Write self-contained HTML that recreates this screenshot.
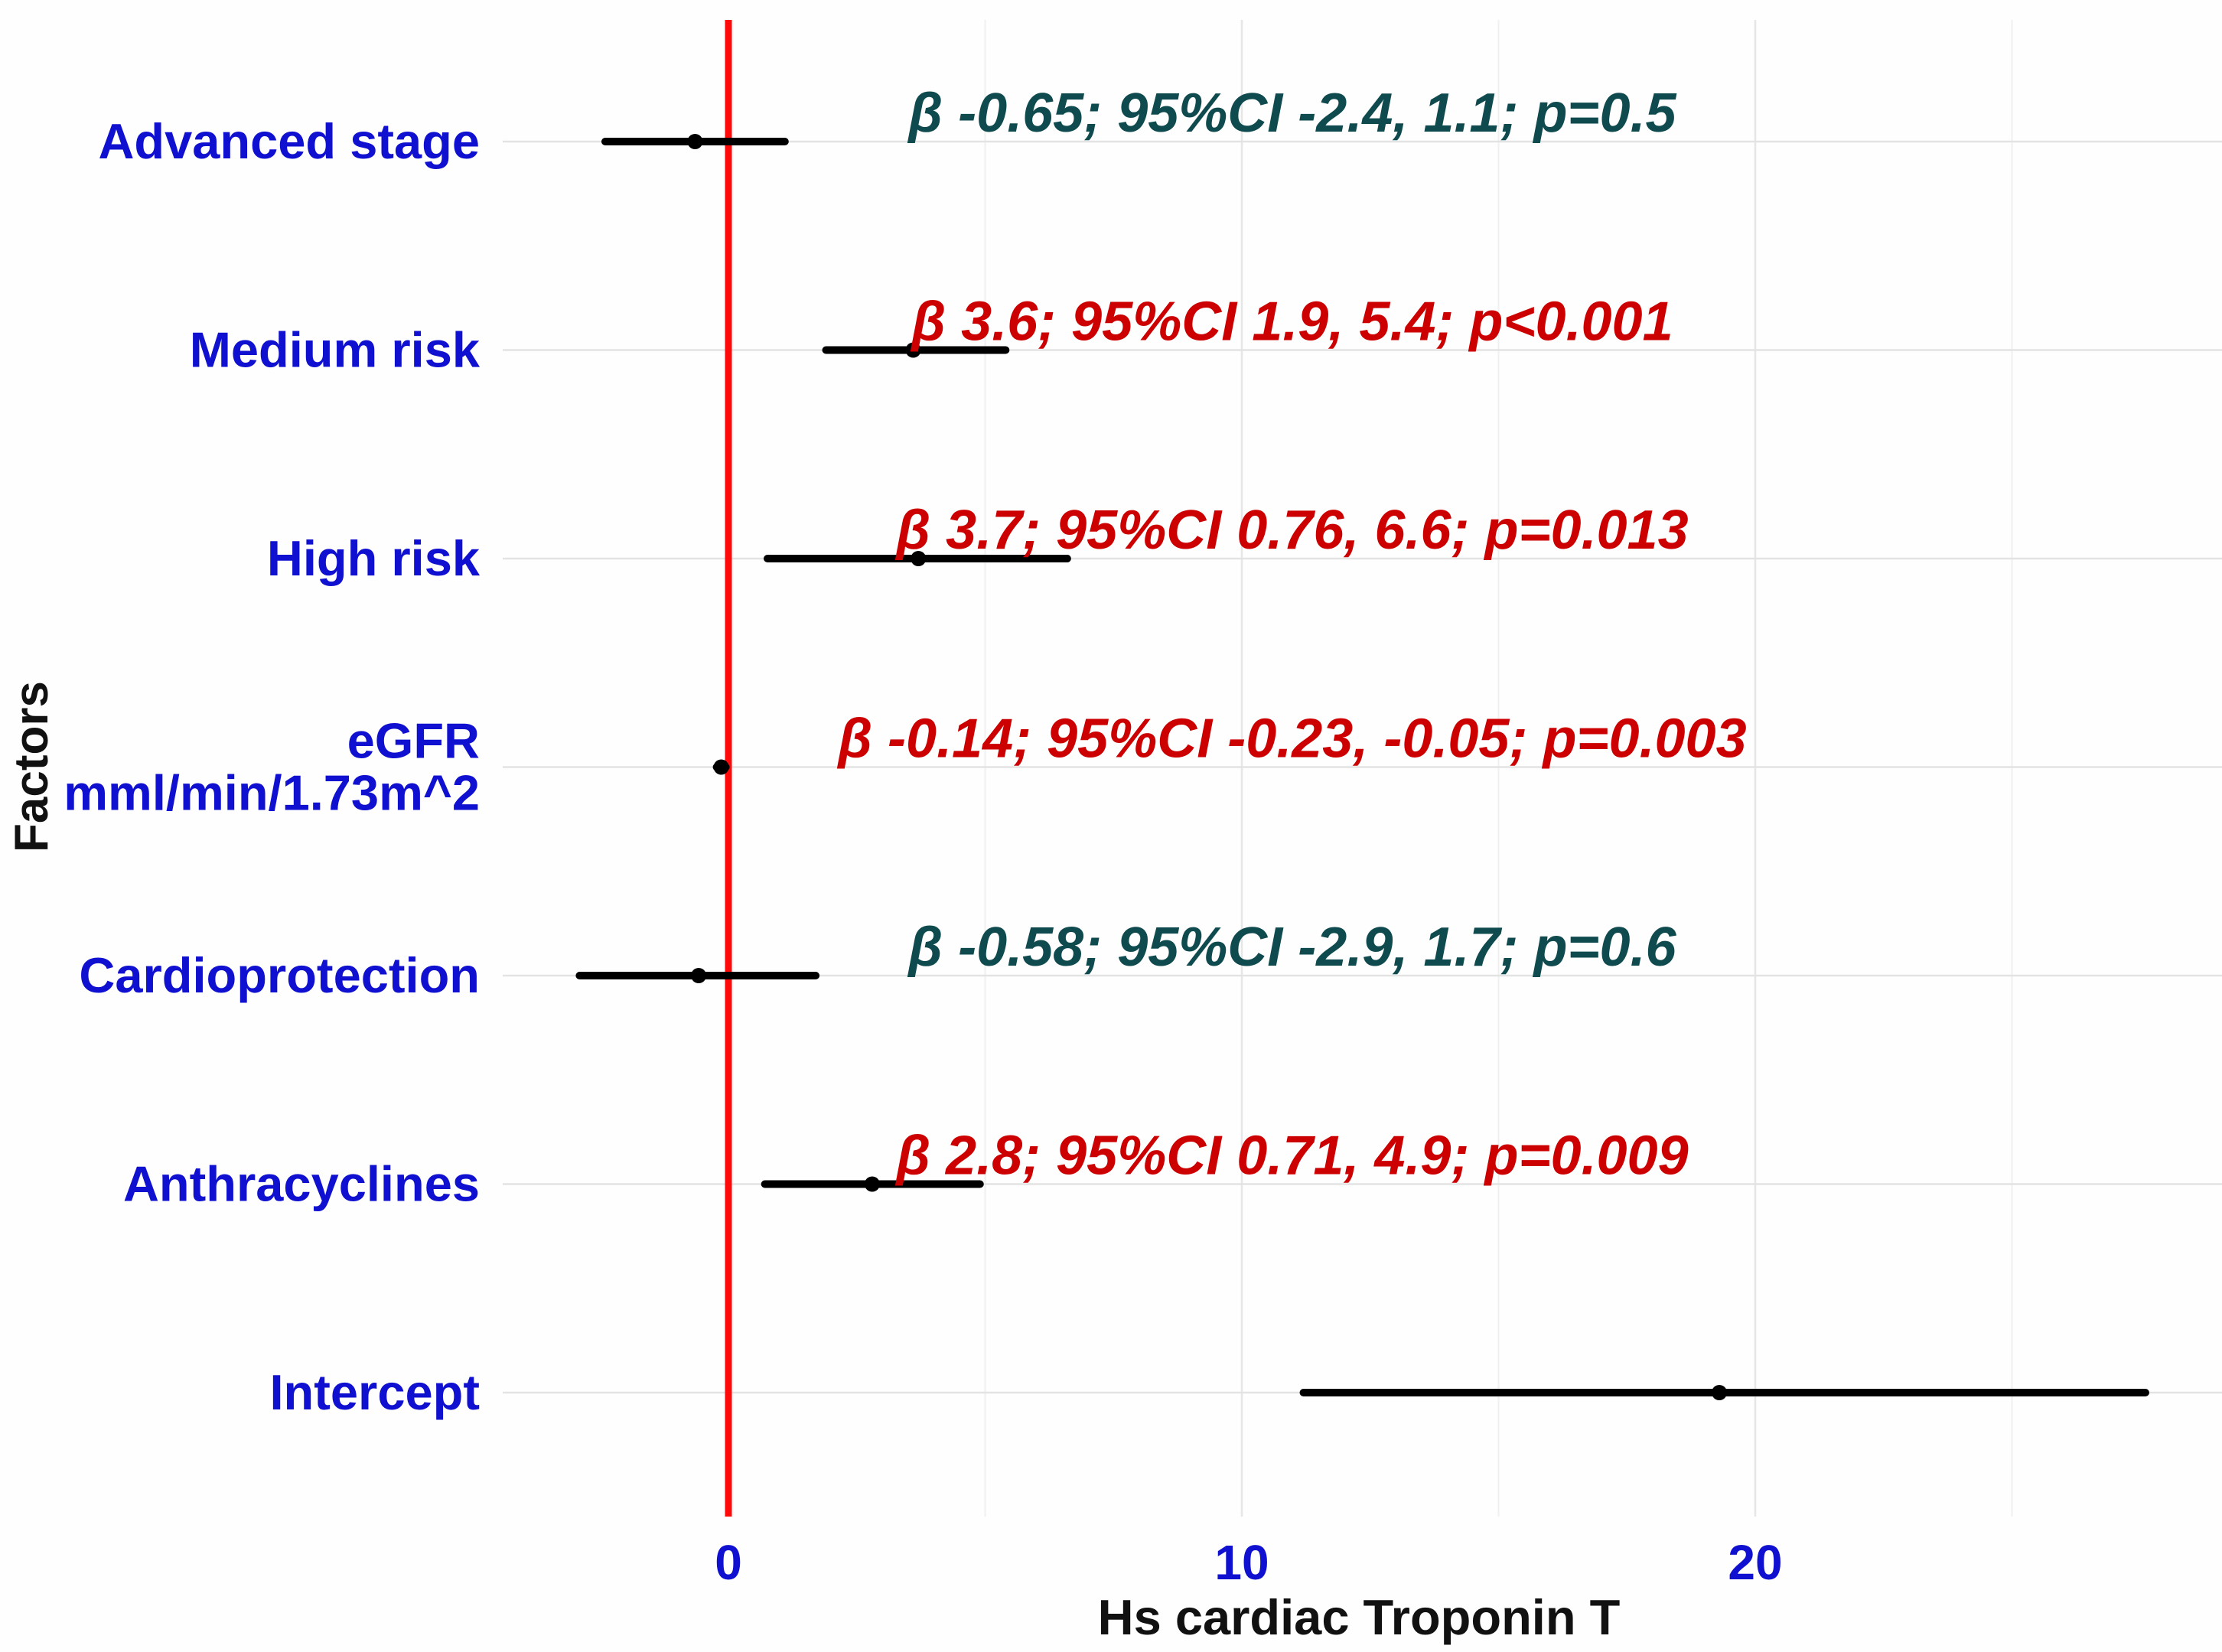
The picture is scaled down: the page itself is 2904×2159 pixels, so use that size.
<!DOCTYPE html>
<html><head><meta charset="utf-8">
<style>
html,body{margin:0;padding:0;background:#fefefe;}
svg{display:block;font-family:"Liberation Sans",sans-serif;}
</style></head>
<body>
<svg id="chart" width="2904" height="2159" viewBox="0 0 2904 2159">
<rect width="2904" height="2159" fill="#fefefe"/>
<g id="grid"></g>
<g id="marks"></g>
<g id="labels"></g>
<text x="952" y="0" id="xtitle" text-anchor="middle" font-weight="bold" font-size="65" fill="#111">Hs cardiac Troponin T</text>
<text transform="translate(62,1002) rotate(-90)" text-anchor="middle" font-weight="bold" font-size="62" fill="#111">Factors</text>
</svg>
<script>
const factors = ["Advanced stage","Medium risk","High risk","eGFR|mml/min/1.73m^2","Cardioprotection","Anthracyclines","Intercept"];
const estimates = [-0.65, 3.6, 3.7, -0.14, -0.58, 2.8, 19.3];
const lowerCI = [-2.4, 1.9, 0.76, -0.23, -2.9, 0.71, 11.2];
const upperCI = [1.1, 5.4, 6.6, -0.05, 1.7, 4.9, 27.6];
const annotations = ["β -0.65; 95%CI -2.4, 1.1; p=0.5","β 3.6; 95%CI 1.9, 5.4; p<0.001","β 3.7; 95%CI 0.76, 6.6; p=0.013","β -0.14; 95%CI -0.23, -0.05; p=0.003","β -0.58; 95%CI -2.9, 1.7; p=0.6","β 2.8; 95%CI 0.71, 4.9; p=0.009",""];
const significant = [false,true,true,true,false,true,false];
const xTicks = [0,10,20];
const xMinor = [5,15,25];

const NS="http://www.w3.org/2000/svg";
const x = v => 952 + (v-0)*67.1;
const y = i => 185 + i*272.5;
const panelTop = 26, panelBottom = 1982, panelLeft = 657, panelRight = 2904;
function mk(tag, attrs, parent){const e=document.createElementNS(NS,tag);for(const k in attrs)e.setAttribute(k,attrs[k]);parent.appendChild(e);return e;}
const grid=document.getElementById('grid'),marks=document.getElementById('marks'),labels=document.getElementById('labels');

xMinor.forEach(v=>{
  const l=mk('line',{x1:x(v),x2:x(v),y1:panelTop,y2:panelBottom,stroke:'#f0f0f0','stroke-width':2},grid);
  
  
});
xTicks.forEach(v=>{
  const l=mk('line',{x1:x(v),x2:x(v),y1:panelTop,y2:panelBottom,stroke:'#e6e6e6','stroke-width':2.5},grid);
  
  
  const t=mk('text',{x:x(v),y:2064,'text-anchor':'middle','font-size':64,'font-weight':'bold',fill:'#1010d0'},labels);
  t.textContent=v;
  
  
});
factors.forEach((f,i)=>{
  const l=mk('line',{x1:panelLeft,x2:panelRight,y1:y(i),y2:y(i),stroke:'#e3e3e3','stroke-width':2.5},grid);
  
  
  const parts=f.split('|');
  const t=mk('text',{x:627,'text-anchor':'end','font-size':65,'font-weight':'bold',fill:'#1010d0'},labels);
  
  
  if(parts.length===1){t.setAttribute('y',y(i)+22);t.textContent=f;}
  else{
    parts.forEach((p,j)=>{const ts=mk('tspan',{x:627,y:y(i)-12+j*68},t);ts.textContent=p;});
  }
});
const z=mk('line',{x1:x(0),x2:x(0),y1:panelTop,y2:panelBottom,stroke:'#ff0a0a','stroke-width':9},marks);



factors.forEach((f,i)=>{
  const ci=mk('line',{x1:x(lowerCI[i]),x2:x(upperCI[i]),y1:y(i),y2:y(i),stroke:'#000','stroke-width':10,'stroke-linecap':'round'},marks);
  
  
  const p=mk('circle',{cx:x(estimates[i]),cy:y(i),r:10,fill:'#000'},marks);
  
  
  if(annotations[i]){
    const t=mk('text',{x:1689,y:y(i)-13,'text-anchor':'middle','font-size':72,'font-weight':'bold','font-style':'italic',fill:significant[i]?'#cc0000':'#0e4a4e'},labels);
    t.textContent=annotations[i];
    
    
  }
});
const xt=document.getElementById('xtitle');
xt.setAttribute('x',1776);xt.setAttribute('y',2136);
</script>
</body></html>
